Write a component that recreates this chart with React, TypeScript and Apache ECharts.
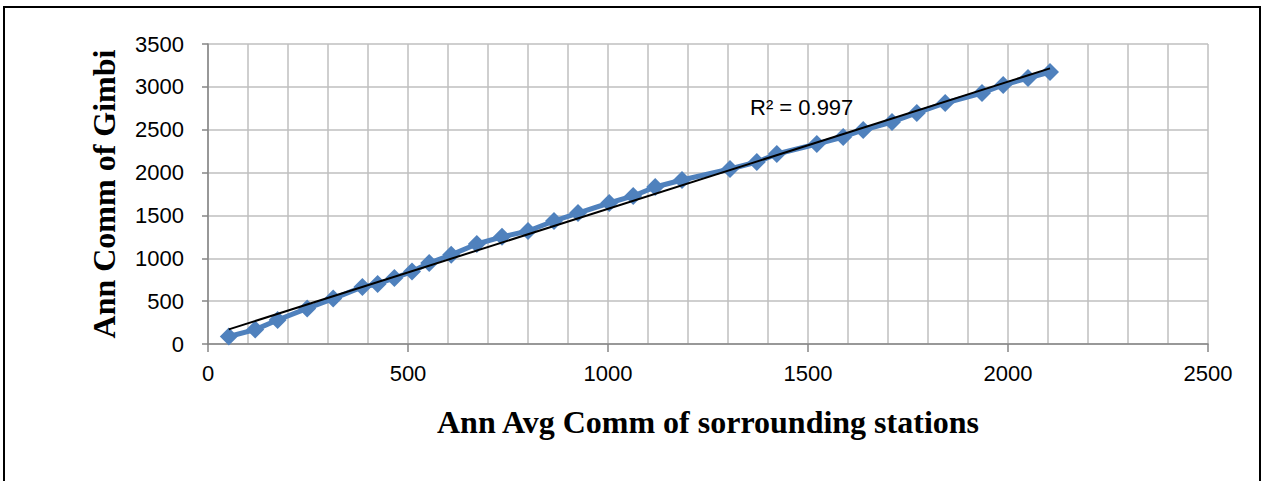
import React, { useEffect, useRef } from "react";
import * as echarts from "echarts";

// Annual commulative values: surrounding-station average (x) vs. Gimbi (y)
const avgSurrounding: number[] = [
  52, 118, 174, 248, 313, 386, 424, 466, 510, 553, 608, 672, 735, 800, 865,
  925, 1003, 1063, 1118, 1185, 1305, 1372, 1422, 1522, 1588, 1638, 1710, 1772,
  1843, 1935, 1988, 2050, 2105,
];
const gimbi: number[] = [
  88, 168, 280, 415, 530, 665, 700, 770, 845, 945, 1040, 1167, 1250, 1318,
  1435, 1528, 1645, 1727, 1832, 1913, 2042, 2123, 2217, 2333, 2415, 2497, 2590,
  2695, 2812, 2928, 3022, 3103, 3173,
];
const rSquaredLabel = "R² = 0.997";

const xTitle = "Ann Avg Comm of sorrounding stations";
const yTitle = "Ann Comm of Gimbi";

function linearFit(xs: number[], ys: number[]) {
  const n = xs.length;
  const mx = xs.reduce((a, b) => a + b, 0) / n;
  const my = ys.reduce((a, b) => a + b, 0) / n;
  let sxy = 0;
  let sxx = 0;
  for (let i = 0; i < n; i++) {
    sxy += (xs[i] - mx) * (ys[i] - my);
    sxx += (xs[i] - mx) * (xs[i] - mx);
  }
  const slope = sxy / sxx;
  return { slope, intercept: my - slope * mx };
}

export default function App() {
  const ref = useRef<HTMLDivElement>(null);

  useEffect(() => {
    if (!ref.current) return;
    const chart = echarts.init(ref.current, undefined, { renderer: "svg" });
    const fit = linearFit(avgSurrounding, gimbi);
    const x0 = Math.min(...avgSurrounding);
    const x1 = Math.max(...avgSurrounding);
    const trend = [
      [x0, fit.intercept + fit.slope * x0],
      [x1, fit.intercept + fit.slope * x1],
    ];
    const labelFont = "'Liberation Sans', Arial, sans-serif";
    const titleFont = "'Liberation Serif', 'Times New Roman', serif";
    const plain = (v: number) => String(v);

    chart.setOption({
      animation: false,
      backgroundColor: "#ffffff",
      grid: { left: 208, right: 56, top: 44, bottom: 137, containLabel: false },
      xAxis: {
        type: "value",
        min: 0,
        max: 2500,
        interval: 500,
        name: xTitle,
        nameLocation: "middle",
        nameGap: 62,
        nameTextStyle: {
          fontFamily: titleFont,
          fontWeight: "bold",
          fontSize: 32,
          color: "#000",
        },
        axisLine: { show: true, onZero: false, lineStyle: { color: "#868686", width: 1.5 } },
        axisTick: { show: true, length: 8, lineStyle: { color: "#868686", width: 1.5 } },
        axisLabel: { fontFamily: labelFont, fontSize: 22, color: "#000", margin: 18, formatter: plain },
        splitLine: { show: true, lineStyle: { color: "#bfbfbf", width: 1.5 } },
        minorTick: { show: false, splitNumber: 5 },
        minorSplitLine: { show: true, lineStyle: { color: "#bfbfbf", width: 1.5 } },
      },
      yAxis: {
        type: "value",
        min: 0,
        max: 3500,
        interval: 500,
        name: yTitle,
        nameLocation: "middle",
        nameRotate: 90,
        nameGap: 88,
        nameTextStyle: {
          fontFamily: titleFont,
          fontWeight: "bold",
          fontSize: 32,
          color: "#000",
        },
        axisLine: { show: true, lineStyle: { color: "#868686", width: 1.5 } },
        axisTick: { show: true, length: 6, lineStyle: { color: "#868686", width: 1.5 } },
        axisLabel: { fontFamily: labelFont, fontSize: 22, color: "#000", margin: 24, formatter: plain },
        splitLine: { show: true, lineStyle: { color: "#bfbfbf", width: 1.5 } },
      },
      graphic: [
        {
          type: "rect",
          shape: { x: 4, y: 7, width: 1256, height: 490 },
          style: { fill: "none", stroke: "#000", lineWidth: 2 },
          silent: true,
          z: 100,
        },
        {
          type: "text",
          x: 750,
          y: 96,
          style: {
            text: rSquaredLabel,
            fontFamily: labelFont,
            fontSize: 22,
            fill: "#000",
          },
          z: 100,
        },
      ],
      series: [
        {
          name: "Gimbi",
          type: "line",
          data: avgSurrounding.map((x, i) => [x, gimbi[i]]),
          symbol: "diamond",
          symbolSize: 18,
          itemStyle: { color: "#4f81bd" },
          lineStyle: { color: "#4f81bd", width: 5 },
          z: 2,
        },
        {
          name: "Linear",
          type: "line",
          data: trend,
          symbol: "none",
          lineStyle: { color: "#000", width: 2 },
          z: 3,
        },
      ],
    });

    return () => chart.dispose();
  }, []);

  return (
    <div
      ref={ref}
      style={{ position: "absolute", left: 0, top: 0, width: 1264, height: 481 }}
    />
  );
}
